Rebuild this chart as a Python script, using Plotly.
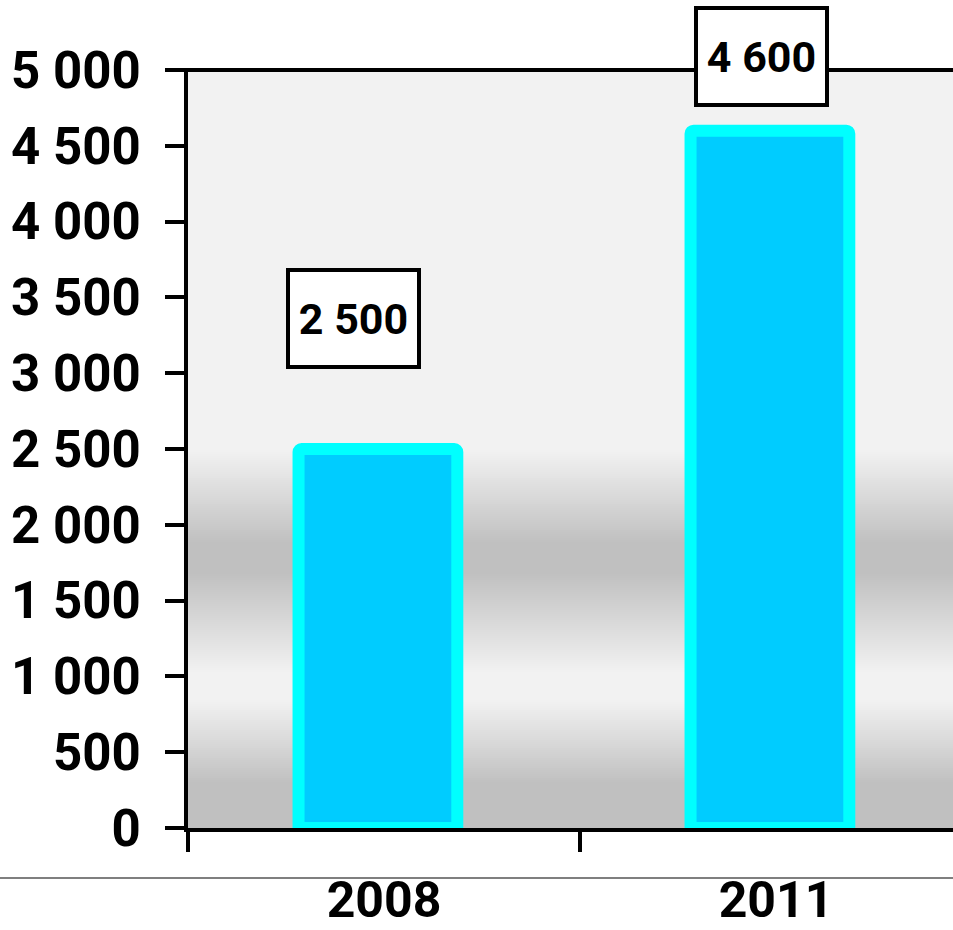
import plotly.graph_objects as go

# ---- data ----
years = ["2008", "2011"]
values = [2500, 4600]
y_ticks = [0, 500, 1000, 1500, 2000, 2500, 3000, 3500, 4000, 4500, 5000]

# ---- styling constants ----
W, H = 953, 930
M_L, M_T, M_B, M_R = 188, 70, 102, 0
PLOT_H = H - M_T - M_B
Y_MAX = 5000
CAT_PX = 392  # pixel width of one category slot
X_RANGE = [-0.5, -0.5 + (W - M_L - M_R) / CAT_PX]

BAR_FILL = "#00CCFF"
BAR_EDGE = "#00FFFF"
FONT = "Roboto"

# vertical background gradient: (value, grey level)
grad_stops = [
    (5000, 0xF2), (2493, 0xF2), (1880, 0xC0), (1682, 0xC0),
    (1022, 0xF2), (844, 0xF2), (297, 0xC0), (0, 0xC0),
]


def grey_at(v):
    for (v0, g0), (v1, g1) in zip(grad_stops, grad_stops[1:]):
        if v1 <= v <= v0:
            t = 0 if v0 == v1 else (v0 - v) / (v0 - v1)
            return g0 + (g1 - g0) * t
    return grad_stops[-1][1]


# strips drawn bottom-up, each overlapping the next so no seams show
shapes = []
step = Y_MAX / (PLOT_H / 2)
v = 0.0
while v < Y_MAX:
    g = int(round(grey_at(v + step / 2)))
    shapes.append(dict(
        type="rect", xref="paper", yref="y", x0=0, x1=1,
        y0=v if v > 0 else -step, y1=min(v + 2 * step, Y_MAX),
        fillcolor=f"rgb({g},{g},{g})", line=dict(width=0), layer="below",
    ))
    v += step

# top border of the plot area (extends over the tick at 5000)
shapes.append(dict(type="line", xref="paper", yref="paper", x0=-19 / (W - M_L), x1=1,
                   y0=1, y1=1, line=dict(color="black", width=4), layer="above"))
# thin separator line under the axis
shapes.append(dict(type="line", xref="paper", yref="paper", x0=-M_L / (W - M_L), x1=1,
                   y0=-50 / PLOT_H, y1=-50 / PLOT_H, line=dict(color="#555555", width=1.5)))

fig = go.Figure()
fig.add_trace(go.Bar(
    x=years, y=values,
    width=0.405, offset=-0.218,
    marker=dict(color=BAR_FILL, line=dict(color=BAR_EDGE, width=12), cornerradius=3),
    hoverinfo="skip",
))

# value labels in boxed callouts (x as category index, y in paper units)
label_dy = [860, 486]
label_dx = [-31, -15]
annotations = []
for i, (val, dy, dx) in enumerate(zip(values, label_dy, label_dx)):
    annotations.append(dict(
        x=i, y=(val + dy) / Y_MAX, xref="x", yref="paper", xshift=dx,
        xanchor="center", yanchor="middle",
        text=f"{val:,}".replace(",", " "), showarrow=False,
        font=dict(family=FONT, size=43, color="black", weight="bold"),
        bgcolor="white", bordercolor="black", borderwidth=4, borderpad=0,
        width=127, height=93, align="center", valign="middle",
    ))

fig.update_layout(
    width=W, height=H,
    margin=dict(l=M_L, r=M_R, t=M_T, b=M_B, pad=0, autoexpand=False),
    paper_bgcolor="white", plot_bgcolor="white",
    showlegend=False, separators=". ",
    shapes=shapes, annotations=annotations,
    xaxis=dict(
        type="category", range=X_RANGE, tickson="boundaries", automargin=False,
        ticks="outside", ticklen=20, tickwidth=4, tickcolor="black",
        showline=True, linecolor="black", linewidth=4,
        showgrid=False, zeroline=False,
        tickfont=dict(family=FONT, size=50, color="black", weight="bold"),
        ticklabelstandoff=25,
    ),
    yaxis=dict(
        range=[0, Y_MAX], tickvals=y_ticks, tickformat=",d", automargin=False,
        ticks="outside", ticklen=19, tickwidth=4, tickcolor="black",
        showline=True, linecolor="black", linewidth=4,
        showgrid=False, zeroline=False,
        tickfont=dict(family=FONT, size=51, color="black", weight="bold"),
        ticklabelstandoff=14,
    ),
)

fig.write_html("out.html")
